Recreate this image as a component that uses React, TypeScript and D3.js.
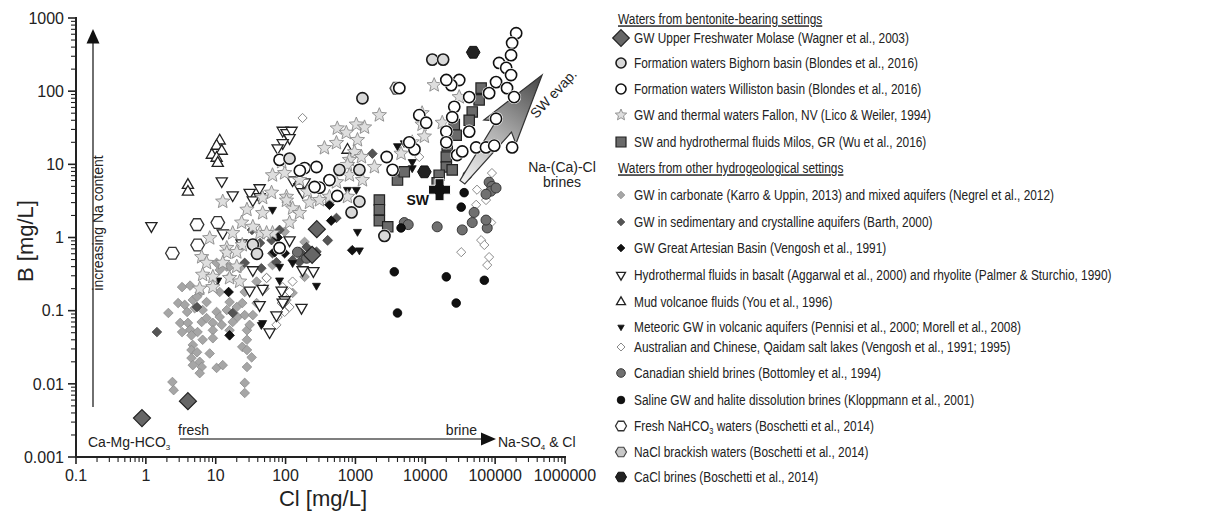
import React from "react";
import * as d3 from "d3";

type P = [number, number]; // [Cl mg/L, B mg/L]

// ---- Waters from bentonite-bearing settings ----
const molasseGW: P[] = [[0.88, 0.0034], [4.0, 0.0058], [280, 1.3], [240, 0.58]];

const bighornFW: P[] = [
  [12600, 270], [18000, 270], [1260, 80], [114, 12], [1140, 8.4], [1140, 3.1],
  [2600, 1.05], [34, 0.8], [39, 0.6], [590, 8.4], [880, 2.2],
];

const willistonFW: P[] = [
  [200000, 620], [175000, 455], [169000, 310], [114000, 243], [144000, 208], [169000, 166],
  [103000, 133], [148000, 110], [187000, 83], [82000, 94], [42500, 83], [30600, 142],
  [23500, 121], [20000, 142], [26000, 61], [24300, 44], [8200, 47], [20000, 28],
  [42500, 28], [103000, 42], [53500, 17], [74000, 17], [97000, 18], [175000, 17],
  [28600, 13.4], [33800, 15], [20000, 20], [7000, 16], [5900, 20], [4250, 110],
  [10300, 37], [2800, 12.6], [3400, 8.4], [425, 6.1], [306, 4.8], [187, 8.9],
  [277, 9.2], [82, 11.5], [160, 8.2], [260, 4.9], [82, 0.72], [550, 3.7],
];

const fallonGW: P[] = [
  [12.6, 3.1], [8.2, 0.98], [65, 7.1], [97, 7.6], [88, 10.8], [47, 3.5], [63, 4.1],
  [28, 2.4], [47, 2.16], [103, 3.6], [126, 2.5], [206, 4.2], [14.4, 0.72], [17.5, 1.15],
  [24, 0.79], [43, 1.15], [65, 1.15], [34, 1.4], [6.3, 0.54], [7.4, 0.45], [14.4, 0.62],
  [20, 0.63], [12.6, 0.45], [20, 0.4], [6.5, 0.31], [9.1, 0.29], [15.8, 0.28], [22, 0.25],
  [5.9, 0.2], [9.1, 0.21], [23.5, 1.6], [53.5, 1.15], [2200, 47], [550, 31], [1030, 35],
  [1350, 32], [740, 27], [1070, 21.5], [535, 19.6], [360, 16.7], [970, 14.7], [820, 11.5],
  [1220, 12.6], [770, 9.8], [1870, 9.2], [1260, 6.1], [820, 7.1], [535, 5.7], [425, 3.6],
  [770, 3.6], [158, 6.1], [103, 3.2], [220, 3.0], [306, 3.25], [158, 2.16], [114, 1.6],
  [13400, 121], [30600, 83], [9000, 50], [9000, 35], [17500, 37], [9700, 24], [6500, 20],
  [4500, 14],
];

const milosSW: P[] = [
  [63000, 110], [59000, 76], [47000, 52], [42500, 40], [26000, 35], [27700, 25],
  [20600, 18], [20000, 12.6], [20000, 9.2], [24300, 8.4], [15800, 7.1], [14800, 5.6],
  [4000, 6.1], [5000, 7.9], [2200, 3.25], [2200, 2.4], [2200, 1.7], [2900, 1.4],
];

// ---- Waters from other hydrogeological settings ----
const carbonateGW: P[] = [
  [2.1, 0.093], [2.4, 0.0106], [2.5, 0.0082], [3.3, 0.21], [4.3, 0.22], [2.9, 0.127],
  [3.6, 0.12], [4.7, 0.14], [5.9, 0.175], [3.9, 0.096], [3.1, 0.068], [4.0, 0.068],
  [3.3, 0.051], [4.3, 0.055], [5.5, 0.051], [4.5, 0.046], [6.3, 0.07], [7.4, 0.079],
  [9.1, 0.068], [10.3, 0.096], [11.4, 0.082], [12.2, 0.064], [9.1, 0.054], [6.5, 0.04],
  [4.7, 0.034], [4.5, 0.029], [5.4, 0.027], [4.5, 0.0225], [5.9, 0.02], [4.7, 0.018],
  [6.3, 0.017], [5.9, 0.014], [8.2, 0.026], [10.3, 0.0165], [12.6, 0.018], [9.1, 0.042],
  [15.8, 0.054], [17.5, 0.07], [20.6, 0.082], [26, 0.087], [34, 0.087], [28, 0.054],
  [30.6, 0.064], [28, 0.04], [24, 0.032], [28, 0.029], [32.7, 0.023], [28, 0.017],
  [26, 0.0103], [26, 0.0075], [38.5, 0.127], [14.4, 0.4], [11.4, 0.36], [15.8, 0.29],
  [22, 0.38], [11.4, 0.18], [15.8, 0.131], [14.4, 0.102], [10.3, 0.45], [65, 0.42],
  [53.5, 0.28], [103, 0.14], [126, 0.175], [187, 0.29], [7.4, 0.131], [26, 0.18],
  [24, 0.127], [38.5, 0.25], [50, 0.2], [400, 0.9], [187, 0.87], [169, 0.54], [97, 1.2],
  [5.4, 0.155], [5.0, 0.108], [6.5, 0.102], [15.8, 0.4], [20, 0.112],
];

const sedCrystGW: P[] = [
  [1.44, 0.051], [5.4, 0.112], [17.5, 0.093], [26, 0.45], [126, 0.49], [169, 0.61],
  [65, 0.61], [45, 0.38], [74, 0.46], [63, 0.92], [33, 1.27], [1750, 14], [535, 1.85],
  [400, 0.92], [200, 0.74], [158, 0.64], [277, 0.64], [158, 0.46], [82, 1.27], [43, 0.84],
];

const artesianGW: P[] = [
  [77, 1.0], [15.8, 0.046], [15.3, 0.18], [70, 0.63], [97, 0.61], [900, 0.67],
  [450, 1.7], [425, 2.8],
];

const basaltRhyolite: P[] = [
  [1.2, 1.44], [12.2, 5.9], [17.5, 3.8], [30.6, 4.1], [42.5, 4.75], [42.5, 3.6], [34, 3.25],
  [91, 29], [103, 27], [122, 29], [114, 23], [91, 19.6], [77, 16.7], [126, 6.1], [158, 4.9],
  [187, 5.7], [175, 4.2], [12.6, 1.15], [23.5, 0.84], [34, 0.36], [47, 0.2], [30.6, 0.19],
  [42.5, 0.12], [59, 0.051], [88, 0.19], [97, 0.14], [74, 0.087], [175, 0.36], [250, 0.35],
  [169, 0.11], [91, 0.13], [114, 0.92],
];

const mudVolcano: P[] = [
  [11.4, 21], [10.3, 17.8], [12.2, 15.2], [8.8, 13.4], [10.3, 12.2], [10.7, 10.4],
  [4.0, 5.2], [4.0, 4.2], [770, 15.7],
];

const meteoricGW: P[] = [
  [4000, 17.8], [5000, 19.5], [6500, 8.9], [6500, 10.8], [770, 4.5], [1030, 4.5],
  [10.7, 0.26], [126, 0.45], [47, 0.068], [277, 0.22], [1070, 1.2], [1140, 0.67],
  [82, 0.4], [82, 0.26], [45, 0.064], [65, 2.4],
];

const saltLakes: P[] = [
  [175, 43], [90000, 7.6], [55000, 4.5], [74000, 3.25], [53500, 2.8], [88000, 1.6],
  [63000, 0.92], [70000, 0.79], [32700, 0.63], [82000, 0.54], [77000, 0.42], [8200, 12.6],
  [53.5, 0.28], [91, 0.21], [77, 0.082], [97, 0.096], [114, 0.112], [126, 0.25],
  [74, 0.064], [114, 0.18], [88, 0.127],
];

const canadianShield: P[] = [
  [82000, 5.7], [90000, 5.0], [87000, 4.3], [74000, 3.9], [103000, 4.75], [50000, 2.2],
  [47000, 1.6], [77000, 1.35], [33800, 1.27], [14800, 1.4], [5000, 1.6], [5700, 1.5],
  [74000, 1.73], [148, 0.63], [243, 0.61], [200, 0.52],
];

const haliteBrines: P[] = [
  [3600, 0.34], [20000, 0.29], [70000, 0.26], [27700, 0.127], [4000, 0.093],
  [36000, 4.1], [32700, 2.6], [4500, 1.35], [40000, 7.1],
];

const freshNaHCO3: P[] = [[5.4, 1.5], [2.4, 0.61], [5.5, 0.79], [10.7, 1.6]];
const naclBrackish: P[] = [[3900, 110]];
const caclBrines: P[] = [[48500, 340], [9700, 7.9]];

// seawater reference and evaporation trend
const seawater: P = [16000, 4.5];
const swEvapFrom: P = [34000, 5.7];
const swEvapTo: P = [470000, 166];

// axis ticks
const xTickValues = [0.1, 1, 10, 100, 1000, 10000, 100000, 1000000];
const xTickLabels = ["0.1", "1", "10", "100", "1000", "10000", "100000", "1000000"];
const yTickValues = [0.001, 0.01, 0.1, 1, 10, 100, 1000];
const yTickLabels = ["0.001", "0.01", "0.1", "1", "10", "100", "1000"];

// legend text
const headerBentonite = "Waters from bentonite-bearing settings";
const headerOther = "Waters from other hydrogeological settings";
const legendLabels: { key: string; text: string }[] = [
  { key: "molasse", text: "GW Upper Freshwater Molase (Wagner et al., 2003)" },
  { key: "bighorn", text: "Formation waters Bighorn basin (Blondes et al., 2016)" },
  { key: "williston", text: "Formation waters Williston basin (Blondes et al., 2016)" },
  { key: "fallon", text: "GW and thermal waters Fallon, NV (Lico & Weiler, 1994)" },
  { key: "milos", text: "SW and hydrothermal fluids Milos, GR (Wu et al., 2016)" },
  { key: "carbonate", text: "GW in carbonate (Karro & Uppin, 2013) and mixed aquifers (Negrel et al., 2012)" },
  { key: "sedcryst", text: "GW in sedimentary and crystalline aquifers (Barth, 2000)" },
  { key: "artesian", text: "GW Great Artesian Basin (Vengosh et al., 1991)" },
  { key: "basalt", text: "Hydrothermal fluids in basalt (Aggarwal et al., 2000) and rhyolite (Palmer & Sturchio, 1990)" },
  { key: "mud", text: "Mud volcanoe fluids (You et al., 1996)" },
  { key: "meteoric", text: "Meteoric GW in volcanic aquifers (Pennisi et al., 2000; Morell et al., 2008)" },
  { key: "saltlake", text: "Australian and Chinese, Qaidam salt lakes (Vengosh et al., 1991; 1995)" },
  { key: "canadian", text: "Canadian shield brines (Bottomley et al., 1994)" },
  { key: "halite", text: "Saline GW and halite dissolution brines (Kloppmann et al., 2001)" },
  { key: "fresh", text: "Fresh NaHCO|3| waters (Boschetti et al., 2014)" },
  { key: "nacl", text: "NaCl brackish waters (Boschetti et al., 2014)" },
  { key: "cacl", text: "CaCl brines (Boschetti et al., 2014)" },
];

// ---- layout ----
const W = 1226;
const H = 513;
const FONT = "'Liberation Sans', Arial, Helvetica, sans-serif";
const x = d3.scaleLog().domain([0.1, 1e6]).range([76, 565]);
const y = d3.scaleLog().domain([0.001, 1000]).range([457, 18]);

const legendRowY = [38, 63, 89, 115, 142, 195, 222, 248, 275, 302, 327, 347, 373, 400, 426, 452, 477];
const legendHeaderY = [19, 168];
const legendMarkerX = 621;
const legendTextX = 634;

// ---- marker shapes (centred on 0,0) ----
const diamond = (h: number) => `M0,${-h}L${h},0L0,${h}L${-h},0Z`;
const square = (s: number) => `M${-s},${-s}H${s}V${s}H${-s}Z`;
const circle = (r: number) => `M${-r},0A${r},${r} 0 1,0 ${r},0A${r},${r} 0 1,0 ${-r},0Z`;
const triDown = (s: number) => `M${-s},${-0.577 * s}L${s},${-0.577 * s}L0,${1.155 * s}Z`;
const triUp = (s: number) => `M${-s},${0.577 * s}L${s},${0.577 * s}L0,${-1.155 * s}Z`;
const hexagon = (r: number) => {
  const pts = d3.range(6).map((i) => {
    const a = (Math.PI / 3) * i;
    return `${(r * Math.cos(a)).toFixed(2)},${(r * Math.sin(a)).toFixed(2)}`;
  });
  return `M${pts.join("L")}Z`;
};
const star = (R: number) => {
  const pts = d3.range(10).map((i) => {
    const rr = i % 2 === 0 ? R : R * 0.45;
    const a = -Math.PI / 2 + (Math.PI / 5) * i;
    return `${(rr * Math.cos(a)).toFixed(2)},${(rr * Math.sin(a)).toFixed(2)}`;
  });
  return `M${pts.join("L")}Z`;
};
const plus = (a: number, t: number) =>
  `M${-t},${-a}H${t}V${-t}H${a}V${t}H${t}V${a}H${-t}V${t}H${-a}V${-t}H${-t}Z`;

type Style = {
  shape: (k: number) => string;
  size: number;
  legendSize: number;
  fill: string;
  stroke: string;
  sw: number;
  halo?: boolean;
};

const styles: Record<string, Style> = {
  molasse: { shape: diamond, size: 8.5, legendSize: 8.3, fill: "#666", stroke: "#222", sw: 1.2 },
  bighorn: { shape: circle, size: 5.6, legendSize: 5, fill: "#d9d9d9", stroke: "#1a1a1a", sw: 1.6, halo: true },
  williston: { shape: circle, size: 5.6, legendSize: 5, fill: "#fff", stroke: "#111", sw: 1.6, halo: true },
  fallon: { shape: star, size: 7.5, legendSize: 6, fill: "#dedede", stroke: "#8a8a8a", sw: 0.9 },
  milos: { shape: square, size: 5.2, legendSize: 5, fill: "#6a6a6a", stroke: "#222", sw: 1.2 },
  carbonate: { shape: diamond, size: 4.8, legendSize: 3.8, fill: "#a6a6a6", stroke: "#8c8c8c", sw: 0.8 },
  sedcryst: { shape: diamond, size: 4.8, legendSize: 3.8, fill: "#555", stroke: "#444", sw: 0.8 },
  artesian: { shape: diamond, size: 4.8, legendSize: 3.8, fill: "#111", stroke: "#000", sw: 0.8 },
  basalt: { shape: triDown, size: 5.6, legendSize: 4.5, fill: "#fff", stroke: "#222", sw: 1.3 },
  mud: { shape: triUp, size: 5.6, legendSize: 4.5, fill: "#fff", stroke: "#222", sw: 1.3 },
  meteoric: { shape: triDown, size: 4, legendSize: 3.2, fill: "#111", stroke: "#111", sw: 0.8 },
  saltlake: { shape: diamond, size: 4.6, legendSize: 4, fill: "#fff", stroke: "#8a8a8a", sw: 1 },
  canadian: { shape: circle, size: 5, legendSize: 4.3, fill: "#707070", stroke: "#3a3a3a", sw: 1 },
  halite: { shape: circle, size: 4.3, legendSize: 3.8, fill: "#111", stroke: "#000", sw: 0.8 },
  fresh: { shape: hexagon, size: 6.8, legendSize: 5.5, fill: "#fff", stroke: "#333", sw: 1.3 },
  nacl: { shape: hexagon, size: 6.8, legendSize: 5.5, fill: "#c8c8c8", stroke: "#444", sw: 1.2 },
  cacl: { shape: hexagon, size: 6.8, legendSize: 5.5, fill: "#222", stroke: "#111", sw: 1 },
};

// draw order, bottom to top
const layers: { key: string; data: P[] }[] = [
  { key: "carbonate", data: carbonateGW },
  { key: "sedcryst", data: sedCrystGW },
  { key: "artesian", data: artesianGW },
  { key: "saltlake", data: saltLakes },
  { key: "basalt", data: basaltRhyolite },
  { key: "mud", data: mudVolcano },
  { key: "meteoric", data: meteoricGW },
  { key: "canadian", data: canadianShield },
  { key: "halite", data: haliteBrines },
  { key: "fresh", data: freshNaHCO3 },
  { key: "nacl", data: naclBrackish },
  { key: "cacl", data: caclBrines },
  { key: "fallon", data: fallonGW },
  { key: "milos", data: milosSW },
];
const topLayers: { key: string; data: P[] }[] = [
  { key: "williston", data: willistonFW },
  { key: "bighorn", data: bighornFW },
  { key: "molasse", data: molasseGW },
];

function Marker({ st, cx, cy, legend }: { st: Style; cx: number; cy: number; legend?: boolean }) {
  const s = legend ? st.legendSize : st.size;
  return (
    <g transform={`translate(${cx},${cy})`}>
      {st.halo && !legend && <path d={st.shape(s + 1.4)} fill="#fff" />}
      <path d={st.shape(s)} fill={st.fill} stroke={st.stroke} strokeWidth={st.sw} />
    </g>
  );
}

function Layer({ k, data }: { k: string; data: P[] }) {
  const st = styles[k];
  return (
    <g>
      {data.map((d, i) => (
        <Marker key={i} st={st} cx={x(d[0])} cy={y(d[1])} />
      ))}
    </g>
  );
}

function evapArrowPath() {
  const tx = x(swEvapFrom[0]);
  const ty = y(swEvapFrom[1]);
  const px = x(swEvapTo[0]);
  const py = y(swEvapTo[1]);
  const len = Math.hypot(px - tx, py - ty);
  const ux = (px - tx) / len;
  const uy = (py - ty) / len;
  const nx = -uy;
  const ny = ux;
  const pt = (s: number, w: number) => [tx + ux * s + nx * w, ty + uy * s + ny * w];
  const pts = [
    pt(0, -3), pt(len * 0.52, -9.5), pt(len * 0.47, -20), [px, py],
    pt(len * 0.47, 20), pt(len * 0.52, 9.5), pt(0, 3),
  ];
  return { d: `M${pts.map((p) => p.join(",")).join("L")}Z`, tx, ty, px, py };
}

function LegendText({ text, x0, y0 }: { text: string; x0: number; y0: number }) {
  const parts = text.split("|");
  return (
    <text
      transform={`translate(${x0},${y0}) scale(0.82,1)`}
      dy="0.36em"
      fontFamily={FONT}
      fontSize={14.5}
      fill="#222"
    >
      {parts.map((p, i) =>
        i % 2 === 1 ? (
          <tspan key={i} fontSize={9} dy="3">
            {p}
          </tspan>
        ) : (
          <tspan key={i} dy={i > 0 ? "-3" : undefined}>
            {p}
          </tspan>
        )
      )}
    </text>
  );
}

export default function App() {
  const arrow = evapArrowPath();
  const minor = (lo: number, hi: number) => {
    const out: number[] = [];
    for (let e = lo; e < hi; e++) for (let m = 2; m <= 9; m++) out.push(m * Math.pow(10, e));
    return out;
  };
  const xMinor = minor(-1, 6);
  const yMinor = minor(-3, 3);
  const x0 = x.range()[0];
  const y0 = y.range()[0];

  return (
    <svg
      width={W}
      height={H}
      viewBox={`0 0 ${W} ${H}`}
      style={{ position: "absolute", left: 0, top: 0, background: "#fff" }}
    >
      <defs>
        <linearGradient
          id="evapGrad"
          gradientUnits="userSpaceOnUse"
          x1={arrow.tx}
          y1={arrow.ty}
          x2={arrow.px}
          y2={arrow.py}
        >
          <stop offset="0" stopColor="#f2f2f2" />
          <stop offset="0.45" stopColor="#b0b0b0" />
          <stop offset="1" stopColor="#444" />
        </linearGradient>
      </defs>

      {/* annotation arrows */}
      <line x1={93} x2={93} y1={407} y2={42} stroke="#333" strokeWidth={1.4} />
      <path d="M93,29L86.5,43.5L99.5,43.5Z" fill="#111" />
      <text
        transform="translate(103,223) rotate(-90)"
        textAnchor="middle"
        fontFamily={FONT}
        fontSize={14}
        fill="#222"
      >
        increasing Na content
      </text>
      <line x1={180} x2={483} y1={439} y2={439} stroke="#555" strokeWidth={1.4} />
      <path d="M496,439L481,432.5L481,445.5Z" fill="#111" />
      <text x={178} y={435} fontFamily={FONT} fontSize={14} fill="#222">
        fresh
      </text>
      <text x={477} y={435} textAnchor="end" fontFamily={FONT} fontSize={14} fill="#222">
        brine
      </text>
      <text x={88} y={447} fontFamily={FONT} fontSize={14} fill="#222">
        Ca-Mg-HCO
        <tspan fontSize={8} dy={3}>
          3
        </tspan>
      </text>
      <text x={498} y={447} fontFamily={FONT} fontSize={14} fill="#222">
        Na-SO
        <tspan fontSize={8} dy={3}>
          4
        </tspan>
        <tspan dy={-3}> &amp; Cl</tspan>
      </text>

      {/* data */}
      {layers.map((l) => (
        <Layer key={l.key} k={l.key} data={l.data} />
      ))}
      <path d={arrow.d} fill="url(#evapGrad)" stroke="#333" strokeWidth={1.2} />
      {topLayers.map((l) => (
        <Layer key={l.key} k={l.key} data={l.data} />
      ))}
      <path
        d={plus(11, 4.5)}
        transform={`translate(${x(seawater[0])},${y(seawater[1])})`}
        fill="#111"
        stroke="#fff"
        strokeWidth={1}
      />
      <text
        x={x(seawater[0]) - 33}
        y={y(seawater[1]) + 15}
        fontFamily={FONT}
        fontSize={14}
        fontWeight="bold"
        fill="#111"
      >
        SW
      </text>
      <text
        transform="translate(557,97) rotate(-47)"
        textAnchor="middle"
        fontFamily={FONT}
        fontSize={14}
        fill="#222"
      >
        SW evap.
      </text>
      <text x={562} y={172} textAnchor="middle" fontFamily={FONT} fontSize={14} fill="#222">
        Na-(Ca)-Cl
      </text>
      <text x={562} y={187} textAnchor="middle" fontFamily={FONT} fontSize={14} fill="#222">
        brines
      </text>

      {/* axes */}
      <g stroke="#222" fill="none">
        <line x1={x0} x2={x0} y1={y.range()[1] - 1} y2={y0 + 1} strokeWidth={2} />
        <line x1={x0 - 1} x2={x.range()[1] + 1} y1={y0} y2={y0} strokeWidth={2} />
        {yTickValues.map((v) => (
          <line key={`ym${v}`} x1={x0 - 8} x2={x0} y1={y(v)} y2={y(v)} strokeWidth={1.6} />
        ))}
        {yMinor.map((v) => (
          <line key={`yn${v}`} x1={x0 - 5} x2={x0} y1={y(v)} y2={y(v)} strokeWidth={1.1} />
        ))}
        {xTickValues.map((v) => (
          <line key={`xm${v}`} x1={x(v)} x2={x(v)} y1={y0} y2={y0 + 7} strokeWidth={1.6} />
        ))}
        {xMinor.map((v) => (
          <line key={`xn${v}`} x1={x(v)} x2={x(v)} y1={y0} y2={y0 + 5} strokeWidth={1.1} />
        ))}
      </g>
      {yTickValues.map((v, i) => (
        <text
          key={`yl${v}`}
          x={x0 - 12}
          y={y(v)}
          dy="0.36em"
          textAnchor="end"
          fontFamily={FONT}
          fontSize={16}
          fill="#222"
        >
          {yTickLabels[i]}
        </text>
      ))}
      {xTickValues.map((v, i) => (
        <text
          key={`xl${v}`}
          x={x(v)}
          y={481}
          textAnchor="middle"
          fontFamily={FONT}
          fontSize={16}
          fill="#222"
        >
          {xTickLabels[i]}
        </text>
      ))}
      <text
        transform="translate(33,241) rotate(-90)"
        textAnchor="middle"
        fontFamily={FONT}
        fontSize={22}
        fill="#222"
      >
        B [mg/L]
      </text>
      <text x={323} y={506} textAnchor="middle" fontFamily={FONT} fontSize={22} fill="#222">
        Cl [mg/L]
      </text>

      {/* legend */}
      {[headerBentonite, headerOther].map((h, i) => (
        <text
          key={h}
          transform={`translate(618,${legendHeaderY[i]}) scale(0.82,1)`}
          dy="0.36em"
          fontFamily={FONT}
          fontSize={14.5}
          fill="#222"
          textDecoration="underline"
        >
          {h}
        </text>
      ))}
      {legendLabels.map((item, i) => (
        <g key={item.key}>
          <Marker st={styles[item.key]} cx={legendMarkerX} cy={legendRowY[i]} legend />
          <LegendText text={item.text} x0={legendTextX} y0={legendRowY[i]} />
        </g>
      ))}
    </svg>
  );
}
